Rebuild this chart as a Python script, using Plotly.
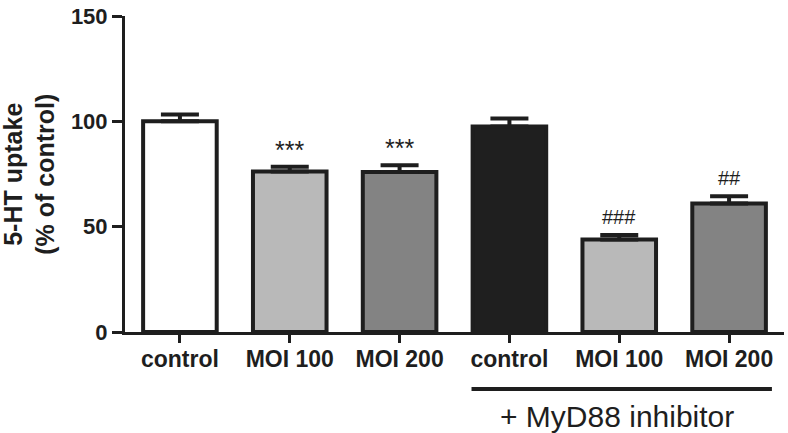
import plotly.graph_objects as go

categories = ["control", "MOI 100", "MOI 200", "control ", "MOI 100 ", "MOI 200 "]
tick_labels = ["control", "MOI 100", "MOI 200", "control", "MOI 100", "MOI 200"]
values = [100, 76.2, 76.0, 97.5, 43.9, 61.0]
errors = [3.3, 2.3, 3.2, 3.9, 2.1, 3.4]
bar_colors = ["#ffffff", "#b9b9b9", "#838383", "#1f1f1f", "#b9b9b9", "#838383"]
sig_labels = ["", "***", "***", "", "###", "##"]

DARK = "#1e1e1e"
FONT = "Arial, Liberation Sans, sans-serif"

fig = go.Figure()
fig.add_trace(go.Bar(
    x=categories, y=values, width=0.67,
    marker=dict(color=bar_colors, line=dict(color=DARK, width=4)),
    error_y=dict(type="data", array=errors, arrayminus=[0] * len(errors), symmetric=False,
                 color=DARK, thickness=4, width=19),
    showlegend=False, hoverinfo="skip",
))

for c, v, e, s in zip(categories, values, errors, sig_labels):
    if s:
        star = "*" in s
        fig.add_annotation(x=c, y=v + e, text=s, showarrow=False, yanchor="middle",
                           yshift=17 if star else 18,
                           font=dict(family=FONT, size=25 if star else 20, color=DARK))

# group line and label
fig.add_shape(type="line", xref="x", yref="paper", x0=2.655, x1=5.39, y0=-0.18, y1=-0.18,
              line=dict(color=DARK, width=4))
fig.add_annotation(xref="x", yref="paper", x=3.977, y=-0.266, text="+ MyD88 inhibitor",
                   showarrow=False, yanchor="middle", font=dict(family=FONT, size=30, color=DARK))

# y title (two lines)
fig.add_annotation(xref="paper", yref="paper", x=-0.146, y=0.5, text="<b>5-HT uptake<br>(% of control)</b>",
                   textangle=-90, showarrow=False, xanchor="center", yanchor="middle",
                   font=dict(family=FONT, size=25, color=DARK))

fig.update_layout(
    width=788, height=433,
    margin=dict(l=125, r=4, t=10, b=101),
    paper_bgcolor="white", plot_bgcolor="white",
    font=dict(family=FONT, color=DARK),
)
fig.update_xaxes(
    range=[-0.5, 5.5], tickmode="array", tickvals=categories, ticktext=[f"<b>{t}</b>" for t in tick_labels],
    showline=True, linecolor=DARK, linewidth=3, ticks="outside", ticklen=8, tickwidth=3, tickcolor=DARK,
    tickfont=dict(family=FONT, size=23, color=DARK), showgrid=False, zeroline=False,
    ticklabelstandoff=-4,
)
fig.update_yaxes(
    range=[0, 150], tickvals=[0, 50, 100, 150], ticktext=["<b>0</b>", "<b>50</b>", "<b>100</b>", "<b>150</b>"],
    showline=True, linecolor=DARK, linewidth=3, ticks="outside", ticklen=10, tickwidth=3, tickcolor=DARK,
    tickfont=dict(family=FONT, size=22, color=DARK), showgrid=False, zeroline=False,
    ticklabeloverflow="allow",
)

fig.write_html("out.html", config={"displayModeBar": False},
               post_script="document.body.style.margin='0';document.body.style.overflow='hidden';")
